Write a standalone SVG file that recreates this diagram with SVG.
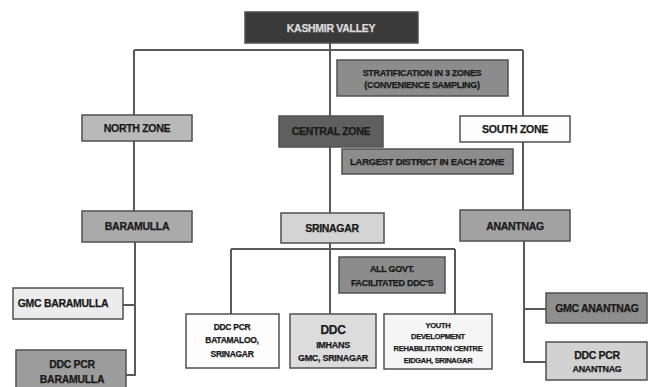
<svg xmlns="http://www.w3.org/2000/svg" width="653" height="387" viewBox="0 0 653 387">
<style>
.b{stroke:#505050;stroke-width:1.5}
.t{font-family:"Liberation Sans",Arial,sans-serif;font-weight:bold;font-size:10.5px;fill:#1a1a1a;stroke:#1a1a1a;stroke-width:0.25;text-anchor:middle;letter-spacing:-0.3px}
.s{font-size:9px}
.c{fill:none;stroke:#5a5a5a;stroke-width:2}
</style>
<rect width="653" height="387" fill="#fff"/>
<g id="connectors">
<path class="c" d="M330 43V116M134 50H523M134 50V115M523 50V116"/>
<path class="c" d="M134 141V211M330 147V213M523 142V210"/>
<path class="c" d="M135 242V375H126M135 305H123"/>
<path class="c" d="M330 243V314M231 249H455M231 249V314M455 249V314"/>
<path class="c" d="M524 241V362H546M524 309H546"/>
</g>
<g id="kashmir"><rect class="b" x="245" y="12" width="173" height="31" fill="#3a3a3a"/><text class="t" x="331" y="31.5" style="fill:#dcdcdc;stroke:#dcdcdc">KASHMIR VALLEY</text></g>
<g id="stratification"><rect class="b" x="337" y="60" width="171" height="36" fill="#8c8c8c"/><text class="t s" x="422" y="75.5">STRATIFICATION IN 3 ZONES</text><text class="t s" x="422" y="87.5">(CONVENIENCE SAMPLING)</text></g>
<g id="north"><rect class="b" x="82" y="115" width="110" height="26" fill="#b9b9b9"/><text class="t" x="137" y="132">NORTH ZONE</text></g>
<g id="central"><rect class="b" x="279" y="116" width="104" height="31" fill="#5f5f5f"/><text class="t" x="331" y="135">CENTRAL ZONE</text></g>
<g id="south"><rect class="b" x="460" y="116" width="110" height="26" fill="#fdfdfd"/><text class="t" x="515" y="133">SOUTH ZONE</text></g>
<g id="largest"><rect class="b" x="342" y="149" width="171" height="25" fill="#8c8c8c"/><text class="t" x="427" y="165" style="font-size:9.5px">LARGEST DISTRICT IN EACH ZONE</text></g>
<g id="baramulla"><rect class="b" x="82" y="211" width="110" height="31" fill="#aaaaaa"/><text class="t" x="137" y="230">BARAMULLA</text></g>
<g id="srinagar"><rect class="b" x="281" y="213" width="103" height="30" fill="#d4d4d4"/><text class="t" x="332" y="231.5">SRINAGAR</text></g>
<g id="anantnag"><rect class="b" x="460" y="210" width="110" height="31" fill="#a2a2a2"/><text class="t" x="515" y="229.5">ANANTNAG</text></g>
<g id="allgovt"><rect class="b" x="339" y="257" width="106" height="36" fill="#8c8c8c"/><text class="t s" x="392" y="272">ALL GOVT.</text><text class="t s" x="392" y="285.5">FACILITATED DDC'S</text></g>
<g id="gmcbaramulla"><rect class="b" x="13" y="288" width="110" height="31" fill="#ececec"/><text class="t" x="63" y="307">GMC BARAMULLA</text></g>
<g id="ddcbaramulla"><rect class="b" x="16" y="350" width="110" height="40" fill="#9c9c9c"/><text class="t" x="72" y="368">DDC PCR</text><text class="t" x="72" y="383">BARAMULLA</text></g>
<g id="batamaloo"><rect class="b" x="186" y="314" width="93" height="54" fill="#fdfdfd"/><text class="t" x="232" y="329.5" style="font-size:8.5px">DDC PCR</text><text class="t" x="232" y="343" style="font-size:8.5px">BATAMALOO,</text><text class="t" x="232" y="357" style="font-size:8.5px">SRINAGAR</text></g>
<g id="imhans"><rect class="b" x="290" y="314" width="86" height="54" fill="#dcdcdc"/><text class="t" x="333" y="333.5" style="font-size:12px">DDC</text><text class="t s" x="333" y="347.5">IMHANS</text><text class="t s" x="333" y="360.5">GMC, SRINAGAR</text></g>
<g id="youth"><rect class="b" x="384" y="314" width="108" height="55" fill="#f5f5f5"/><text class="t" x="438" y="327.5" style="font-size:7.5px">YOUTH</text><text class="t" x="438" y="338.5" style="font-size:7.5px">DEVELOPMENT</text><text class="t" x="438" y="350.5" style="font-size:7.5px">REHABILITATION CENTRE</text><text class="t" x="438" y="362.5" style="font-size:7.5px">EIDGAH, SRINAGAR</text></g>
<g id="gmcanantnag"><rect class="b" x="546" y="293" width="101" height="30" fill="#8e8e8e"/><text class="t" x="597" y="312">GMC ANANTNAG</text></g>
<g id="ddcanantnag"><rect class="b" x="546" y="342" width="101" height="38" fill="#d2d2d2"/><text class="t" x="597" y="358.5">DDC PCR</text><text class="t s" x="597" y="372">ANANTNAG</text></g>
</svg>
